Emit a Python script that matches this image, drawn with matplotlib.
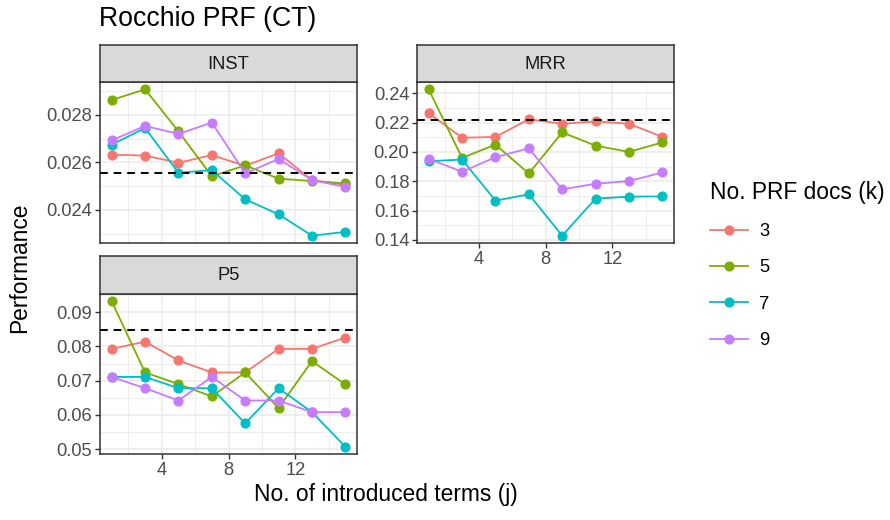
import matplotlib
matplotlib.use('Agg')
from matplotlib import pyplot as plt
from matplotlib.ticker import MultipleLocator, FormatStrFormatter
from matplotlib.lines import Line2D

plt.rcParams['font.family'] = ['Liberation Sans', 'DejaVu Sans']

terms = [1, 3, 5, 7, 9, 11, 13, 15]
ks = ['3', '5', '7', '9']
colors = ['#F8766D', '#7CAE00', '#00BFC4', '#C77CFF']

inst = {
  '3': [0.02632, 0.02628, 0.02598, 0.02630, 0.02585, 0.02638, 0.02525, 0.02505],
  '5': [0.02862, 0.02907, 0.02730, 0.02541, 0.02587, 0.02531, 0.02521, 0.02511],
  '7': [0.02674, 0.02744, 0.02556, 0.02567, 0.02444, 0.02381, 0.02291, 0.02307],
  '9': [0.02692, 0.02753, 0.02719, 0.02767, 0.02553, 0.02614, 0.02525, 0.02496],
}
mrr = {
  '3': [0.2264, 0.2097, 0.2102, 0.2223, 0.2192, 0.2208, 0.2192, 0.2103],
  '5': [0.2427, 0.1959, 0.2050, 0.1853, 0.2133, 0.2043, 0.2000, 0.2065],
  '7': [0.1937, 0.1948, 0.1668, 0.1711, 0.1429, 0.1682, 0.1695, 0.1697],
  '9': [0.1953, 0.1865, 0.1964, 0.2025, 0.1745, 0.1783, 0.1801, 0.1860],
}
p5 = {
  '3': [0.0793, 0.0814, 0.0759, 0.0724, 0.0724, 0.0793, 0.0793, 0.0826],
  '5': [0.0932, 0.0724, 0.0690, 0.0654, 0.0724, 0.0620, 0.0757, 0.0689],
  '7': [0.0711, 0.0711, 0.0678, 0.0678, 0.0575, 0.0678, 0.0608, 0.0507],
  '9': [0.0711, 0.0678, 0.0642, 0.0711, 0.0642, 0.0642, 0.0608, 0.0608],
}
baseline = {'INST': 0.02553, 'MRR': 0.2219, 'P5': 0.0847}

W, H = 890, 520


def box(x0, y0, x1, y1):
  return [x0 / W, 1 - y1 / H, (x1 - x0) / W, (y1 - y0) / H]


def strip(fig, rect, label):
  s = fig.add_axes(rect)
  s.set_facecolor('#D9D9D9')
  s.set_xticks([])
  s.set_yticks([])
  for sp in s.spines.values():
    sp.set_color('#333333')
    sp.set_linewidth(1.1)
  s.text(0.5, 0.48, label, ha='center', va='center', fontsize=13.2, color='#1A1A1A',
         transform=s.transAxes)


def panel(fig, rect, name, data, ymaj, yfmt, show_x):
  ax = fig.add_axes(rect)
  ax.set_facecolor('white')
  ax.xaxis.set_major_locator(MultipleLocator(4))
  ax.xaxis.set_minor_locator(MultipleLocator(2))
  ax.yaxis.set_major_locator(MultipleLocator(ymaj))
  ax.yaxis.set_minor_locator(MultipleLocator(ymaj / 2))
  ax.yaxis.set_major_formatter(FormatStrFormatter(yfmt))
  ax.grid(which='major', color='#EBEBEB', linewidth=1.1, zorder=0)
  ax.grid(which='minor', color='#EBEBEB', linewidth=0.6, zorder=0)
  ax.set_axisbelow(True)
  for k, c in zip(ks, colors):
    ax.plot(terms, data[k], color=c, linewidth=1.3, marker='o', markersize=6.3,
            zorder=3)
  ax.margins(x=0.05, y=0.05)
  ax.axhline(baseline[name], color='black', linewidth=1.4, dashes=(4, 3), zorder=4)
  for sp in ax.spines.values():
    sp.set_color('#333333')
    sp.set_linewidth(1.1)
  ax.tick_params(which='major', length=3.5, width=1.0, color='#333333',
                 labelsize=13.2, labelcolor='#4D4D4D', pad=2)
  ax.tick_params(which='minor', length=0)
  if not show_x:
    ax.tick_params(axis='x', which='both', length=0, labelbottom=False)
  return ax


fig = plt.figure(figsize=(8.9, 5.2), dpi=100)

a1 = panel(fig, box(100, 82, 357, 243), 'INST', inst, 0.002, '%.3f', False)
strip(fig, box(100, 45, 357, 82), 'INST')
a2 = panel(fig, box(417, 82, 674, 243), 'MRR', mrr, 0.02, '%.2f', True)
strip(fig, box(417, 45, 674, 82), 'MRR')
a3 = panel(fig, box(100, 294, 357, 454), 'P5', p5, 0.01, '%.2f', True)
strip(fig, box(100, 256, 357, 294), 'P5')

fig.text(99 / W, 1 - 19 / H, 'Rocchio PRF (CT)', fontsize=19.2, ha='left', va='center')
fig.text(386 / W, 1 - 495 / H, 'No. of introduced terms (j)', fontsize=16.4,
         ha='center', va='center')
fig.text(20 / W, 1 - 268 / H, 'Performance', fontsize=16.4, rotation=90,
         ha='center', va='center')

handles = [Line2D([], [], color=c, linewidth=1.3, marker='o', markersize=6.3)
           for c in colors]
leg = fig.legend(handles, ks, title='No. PRF docs (k)', loc='upper left',
                 bbox_to_anchor=(693 / W, 1 - 164 / H), frameon=False,
                 fontsize=13.2, title_fontsize=16.4, handlelength=2.1,
                 labelspacing=1.06, handletextpad=0.6, alignment='left')

plt.savefig('out.png', dpi=100)
